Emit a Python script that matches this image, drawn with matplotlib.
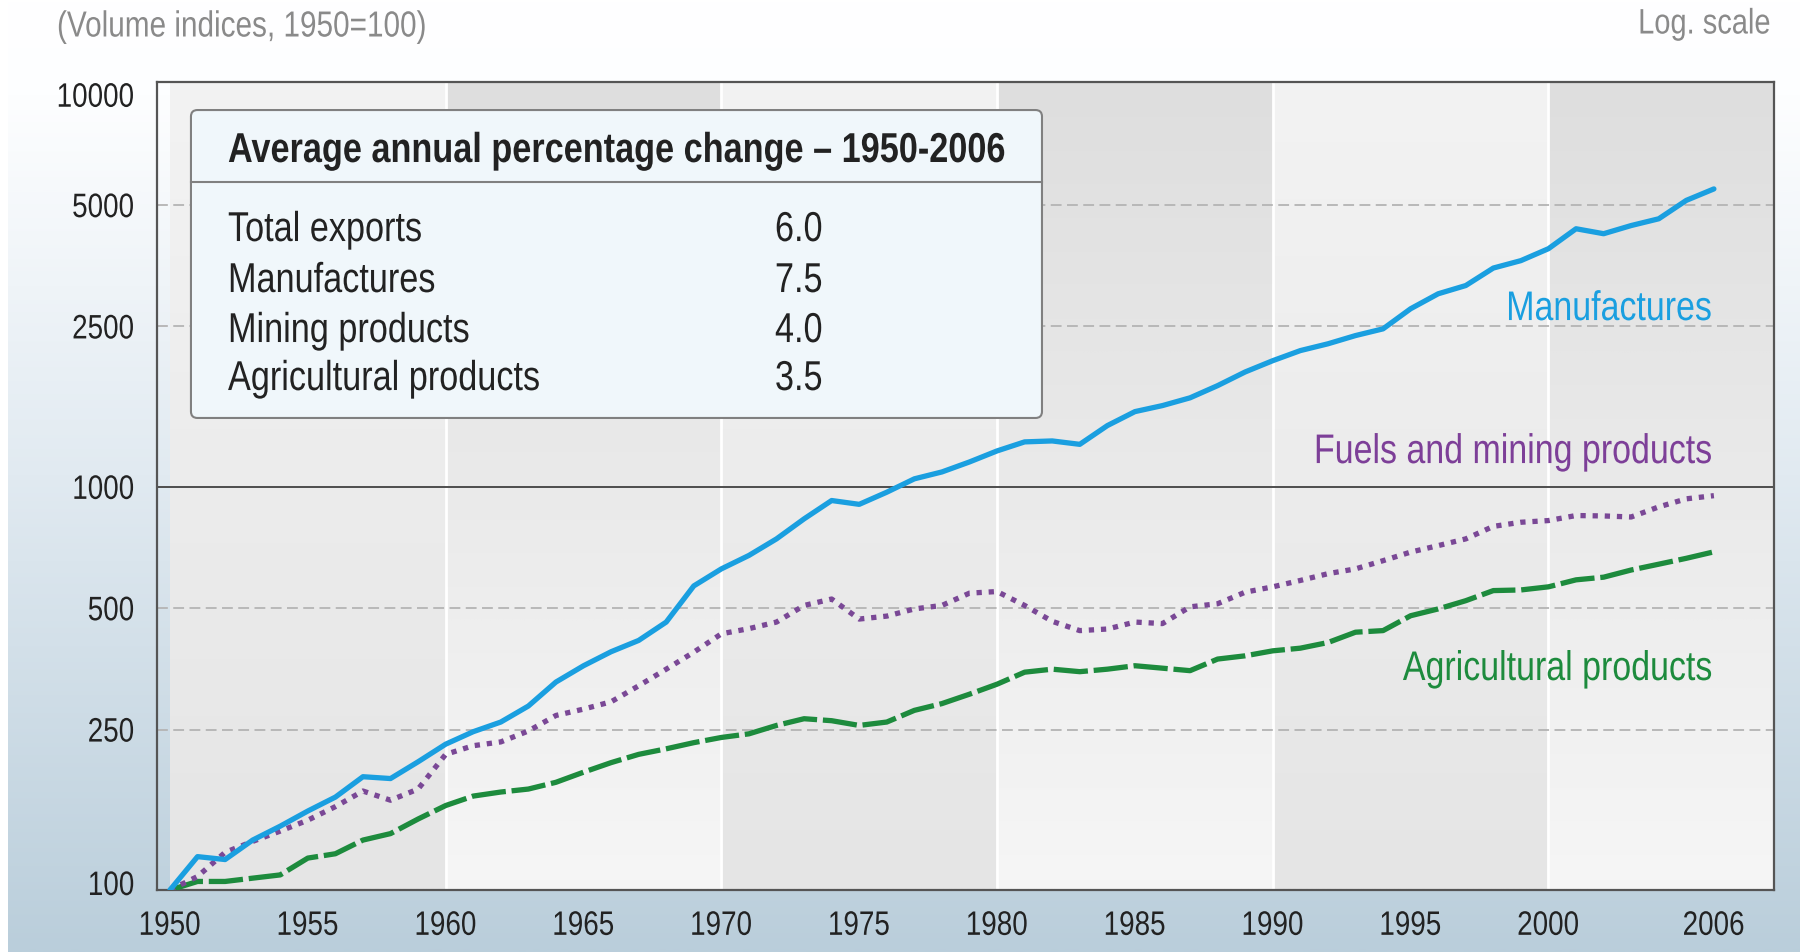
import numpy as np
import matplotlib
matplotlib.use("Agg")
import matplotlib.pyplot as plt
from matplotlib import font_manager
from matplotlib.patches import FancyBboxPatch
from matplotlib.colors import LinearSegmentedColormap
from matplotlib.ticker import NullLocator
from matplotlib.patheffects import AbstractPathEffect
from matplotlib.transforms import Affine2D, ScaledTranslation

# ---------------- data ----------------
years = list(range(1950, 2007))
manufactures = [100, 121, 119, 133, 144, 157, 170, 191, 189, 208,
                230, 247, 261, 286, 328, 360, 390, 416, 462, 568,
                626, 676, 743, 833, 925, 905, 970, 1047, 1089, 1153,
                1228, 1293, 1300, 1275, 1419, 1537, 1591, 1663, 1783, 1928,
                2056, 2178, 2264, 2373, 2466, 2766, 3013, 3158, 3490, 3641,
                3898, 4368, 4246, 4449, 4624, 5137, 5484]
fuels_mining = [100, 108, 124, 132, 140, 149, 161, 176, 167, 178,
                217, 228, 233, 248, 271, 281, 293, 321, 353, 389,
                432, 445, 462, 508, 527, 470, 478, 498, 508, 545,
                550, 508, 464, 440, 444, 462, 458, 504, 513, 548,
                565, 586, 609, 626, 656, 689, 715, 743, 798, 817,
                825, 849, 847, 842, 892, 934, 951]
agricultural = [100, 105, 105, 107, 109, 120, 123, 133, 138, 150,
                162, 171, 175, 178, 185, 196, 207, 217, 224, 232,
                239, 244, 256, 266, 263, 256, 261, 279, 290, 306,
                324, 347, 353, 348, 353, 360, 355, 350, 374, 381,
                392, 398, 411, 436, 440, 479, 498, 522, 553, 555,
                565, 588, 597, 622, 643, 665, 690]

y_ticks = [100, 250, 500, 1000, 2500, 5000, 10000]
x_ticks = [1950, 1955, 1960, 1965, 1970, 1975, 1980, 1985, 1990, 1995, 2000, 2006]
decades = [1950, 1960, 1970, 1980, 1990, 2000]

box_title = "Average annual percentage change \u2013 1950-2006"
box_categories = ["Total exports", "Manufactures", "Mining products", "Agricultural products"]
box_values = [6.0, 7.5, 4.0, 3.5]

series_names = ["Manufactures", "Fuels and mining products", "Agricultural products"]

# ---------------- fonts ----------------
names = {f.name for f in font_manager.fontManager.ttflist}
FONT = "Liberation Sans Narrow" if "Liberation Sans Narrow" in names else "Liberation Sans"
plt.rcParams["font.family"] = [FONT, "DejaVu Sans"]
SX = 1.0 if FONT == "Liberation Sans Narrow" else 0.82   # narrow (condensed) glyphs


class Condense(AbstractPathEffect):
    """Draw the text glyphs horizontally condensed, keeping the alignment edge."""

    def __init__(self, sx=SX, ha="left"):
        super().__init__()
        self.sx = sx
        self.f = {"left": 0.0, "center": 0.5, "right": 1.0}[ha]

    def draw_path(self, renderer, gc, tpath, affine, rgbFace=None):
        w = tpath.get_extents().x1
        tr = Affine2D().scale(self.sx, 1).translate((1 - self.sx) * w * self.f, 0) + affine
        renderer.draw_path(gc, tpath, tr, rgbFace)


W, H = 1800, 953
fig = plt.figure(figsize=(W / 100, H / 100), dpi=100)

# ---------------- figure background gradient ----------------
grad = np.linspace(0, 1, 512)[:, None]
bg = fig.add_axes([0, 0, 1, 1], zorder=-10)
bg.axis("off")
bg_cmap = LinearSegmentedColormap.from_list(
    "bg", [(0, "#ffffff"), (0.1, "#fdfeff"), (0.5, "#e1eaf1"), (1.0, "#bacedb")])
bg.imshow(grad, aspect="auto", cmap=bg_cmap, extent=(8 / W, 1, 0, 1),
          interpolation="bilinear")
bg.set_xlim(0, 1)
bg.set_ylim(0, 1)

# ---------------- plot area geometry ----------------
L, R, B, T = 157 / W, 1774 / W, 1 - 891 / H, 1 - 83 / H
XMIN, XMAX = 1949.53, 2008.18

# background bands
bax = fig.add_axes([L, B, R - L, T - B], zorder=0)
bax.axis("off")
for i, d0 in enumerate(decades):
    d1 = min(d0 + 10, XMAX)
    if i % 2 == 0:
        cols = ["#f3f3f3", "#e5e5e5"]
    else:
        cols = ["#dedede", "#f6f6f6"]
    cm = LinearSegmentedColormap.from_list("band%d" % i, cols)
    bax.imshow(grad, aspect="auto", cmap=cm, extent=(d0, d1, 0, 1),
               interpolation="bilinear")
for d in decades[1:]:
    bax.axvline(d, color="white", lw=2.0)
bax.set_xlim(XMIN, XMAX)
bax.set_ylim(0, 1)

# main axes
ax = fig.add_axes([L, B, R - L, T - B], zorder=1)
ax.patch.set_alpha(0)
ax.set_yscale("log")
ax.set_xlim(XMIN, XMAX)
ax.set_ylim(100, 10100)

for v in y_ticks:
    if v in (100, 10000):
        continue
    if v == 1000:
        ax.axhline(v, color="#4d4d4d", lw=1.4, zorder=1)
    else:
        ax.axhline(v, color="#b4b4b4", lw=1.3, dashes=(6, 3), zorder=1)

for s in ax.spines.values():
    s.set_color("#555555")
    s.set_linewidth(1.6)

ax.plot(years, agricultural, color="#1d8b3d", lw=3.8, dashes=(6.5, 1.1),
        dash_capstyle="butt", zorder=3)
ax.plot(years, fuels_mining, color="#7a4896", lw=3.8, dashes=(1.0, 1.3),
        dash_capstyle="butt", zorder=3)
ax.plot(years, manufactures, color="#1a9fe0", lw=3.8,
        solid_joinstyle="round", solid_capstyle="round", zorder=4)

ax.set_yticks(y_ticks)
ax.set_yticklabels([str(v) for v in y_ticks])
ax.yaxis.set_minor_locator(NullLocator())
ax.set_xticks(x_ticks)
ax.set_xticklabels([str(v) for v in x_ticks])
ax.tick_params(axis="both", length=0, colors="#222222")
ax.tick_params(axis="y", pad=16)
ax.tick_params(axis="x", pad=15)

# series labels
series_cols = ["#1a9fe0", "#7d3f98", "#1d8b3d"]
series_y = [0.719, 0.542, 0.2735]
series_txt = []
for name, c, yy in zip(series_names, series_cols, series_y):
    series_txt.append(ax.text(0.9617, yy, name, transform=ax.transAxes, ha="right",
                              va="center", color=c, fontsize=28, zorder=6,
                              path_effects=[Condense(ha="right")]))

# inset box
bx0, bx1, by0, by1 = 0.021, 0.5473, 0.5842, 0.9653
sep = 0.8762
box = FancyBboxPatch((bx0, by0), bx1 - bx0, by1 - by0,
                     boxstyle="round,pad=0,rounding_size=0.004", mutation_aspect=2.0,
                     transform=ax.transAxes, fc="#f0f7fb", ec="#808080", lw=1.5, zorder=5)
ax.add_patch(box)
ax.plot([bx0, bx1], [sep, sep], transform=ax.transAxes, color="#808080", lw=1.5, zorder=6)
header = ax.text(0.0439, 0.9146, box_title, transform=ax.transAxes, ha="left",
                 va="center", fontsize=26, fontweight="bold", color="#222222", zorder=7,
                 path_effects=[Condense(ha="left")])
row_y = [0.8168, 0.7537, 0.6918, 0.6324]
row_txt, val_txt = [], []
for cat, val, yy in zip(box_categories, box_values, row_y):
    row_txt.append(ax.text(0.0439, yy, cat, transform=ax.transAxes, ha="left",
                           va="center", fontsize=28, color="#222222", zorder=7,
                           path_effects=[Condense(ha="left")]))
    val_txt.append(ax.text(0.397, yy, "%.1f" % val, transform=ax.transAxes, ha="center",
                           va="center", fontsize=28, color="#222222", zorder=7,
                           path_effects=[Condense(ha="center")]))

# titles
title = fig.text(57 / W, 1 - 28 / H, "(Volume indices, 1950=100)", ha="left",
                 va="center", color="#8a8a8a", fontsize=20,
                 path_effects=[Condense(ha="left")])
logt = fig.text(1771 / W, 1 - 25 / H, "Log. scale", ha="right", va="center",
                color="#8a8a8a", fontsize=20, path_effects=[Condense(ha="right")])

# ---------------- fit text sizes to the reference widths ----------------
fig.canvas.draw()
rend = fig.canvas.get_renderer()


def fit(master, target, group):
    w = master.get_window_extent(rend).width * SX
    k = target / w
    for t in group:
        t.set_fontsize(t.get_fontsize() * k)


fit(header, 778, [header])
fit(row_txt[3], 312, row_txt + val_txt)
fit(series_txt[1], 398, series_txt)
fit(title, 370, [title])
fit(logt, 132, [logt])

tmp = fig.text(0, 0, "1950", fontsize=24)
wt = tmp.get_window_extent(rend).width * SX
tick_fs = 24 * 62 / wt
tmp.remove()
ax.tick_params(axis="both", labelsize=tick_fs)

fig.canvas.draw()
for lab in ax.get_xticklabels():
    lab.set_path_effects([Condense(ha="center")])
ylabs = ax.get_yticklabels()
for lab in ylabs:
    lab.set_path_effects([Condense(ha="right")])
# end labels sit slightly inside the plot frame, as in the original
ylabs[0].set_transform(ylabs[0].get_transform() +
                       ScaledTranslation(0, 7 / 100, fig.dpi_scale_trans))
ylabs[-1].set_transform(ylabs[-1].get_transform() +
                        ScaledTranslation(0, -11 / 100, fig.dpi_scale_trans))

fig.savefig("out.png", dpi=100)
